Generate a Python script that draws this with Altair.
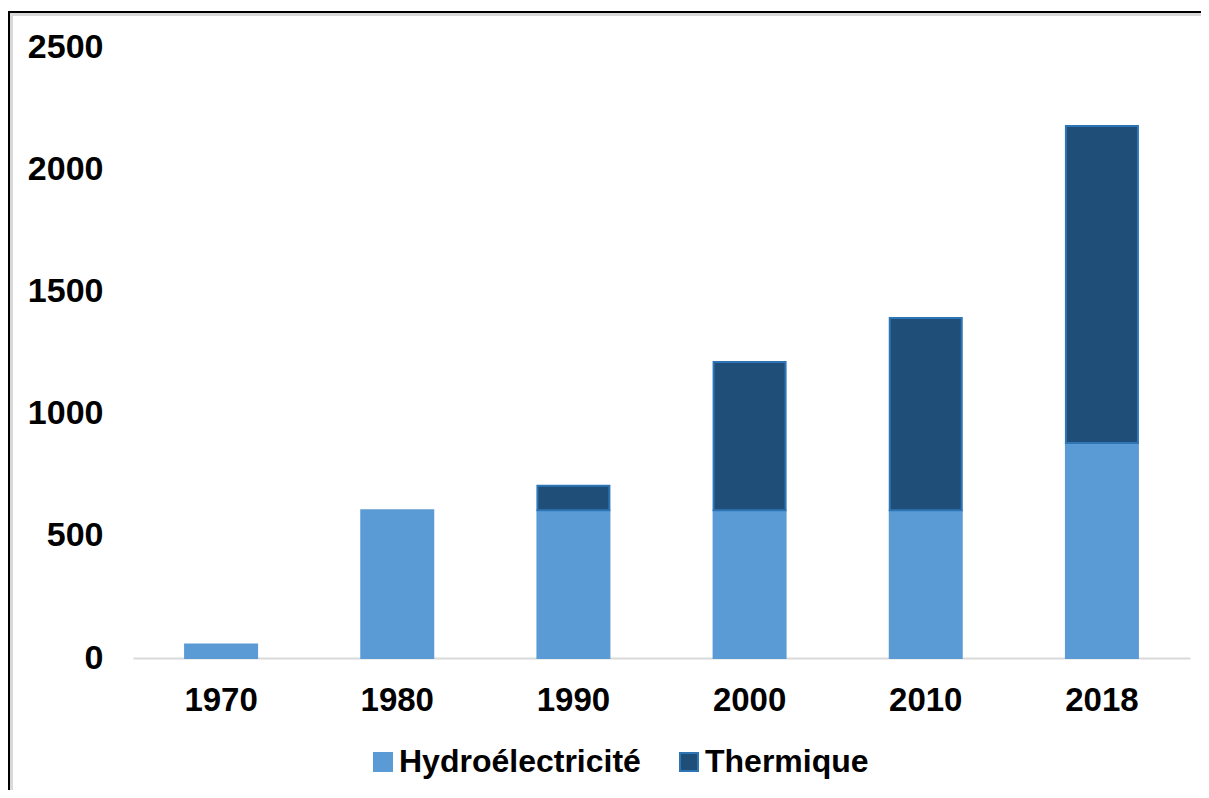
import altair as alt
import pandas as pd

years = ["1970", "1980", "1990", "2000", "2010", "2018"]
hydro = [55, 605, 605, 605, 605, 880]
thermal = [0, 0, 100, 606, 786, 1297]
series = ["Hydroélectricité", "Thermique"]
fills = ["#5b9bd5", "#1f4e79"]
strokes = ["#5b9bd5", "#2e75b6"]
y_ticks = [0, 500, 1000, 1500, 2000, 2500]

rows = []
for i, y in enumerate(years):
    rows.append({"year": y, "source": series[0], "value": hydro[i], "ord": 0})
    if thermal[i] > 0:
        rows.append({"year": y, "source": series[1], "value": thermal[i], "ord": 1})
df = pd.DataFrame(rows)

FONT = "Liberation Sans"

legend = alt.Legend(
    title=None, orient="none", legendX=234, legendY=699, direction="horizontal",
    labelFont=FONT, labelFontSize=32, labelFontWeight="bold", labelColor="#000000",
    symbolType="square", symbolSize=324, symbolStrokeWidth=2, labelOffset=0,
    columnPadding=32, labelLimit=400, padding=0,
)

bars = alt.Chart(df).mark_bar(strokeWidth=2, size=72).encode(
    x=alt.X("year:N", sort=years, title=None,
            scale=alt.Scale(paddingInner=0.59, paddingOuter=0.295),
            axis=alt.Axis(labelAngle=0, ticks=False, domainColor="#d9d9d9",
                          domainWidth=2, labelFont=FONT, labelFontSize=33,
                          labelFontWeight="bold", labelColor="#000000",
                          labelPadding=26)),
    y=alt.Y("value:Q", stack="zero", title=None,
            scale=alt.Scale(domain=[0, 2500], nice=False),
            axis=alt.Axis(values=y_ticks, format="d", grid=False, domain=False,
                          ticks=False, labelFont=FONT, labelFontSize=34,
                          labelFontWeight="bold", labelColor="#000000",
                          labelPadding=30)),
    fill=alt.Fill("source:N", scale=alt.Scale(domain=series, range=fills),
                  legend=legend),
    stroke=alt.Stroke("source:N", scale=alt.Scale(domain=series, range=strokes),
                      legend=legend),
    order=alt.Order("ord:Q", sort="ascending"),
)

frame = pd.DataFrame({"a": [0]})
top_black = alt.Chart(frame).mark_rule(color="#000000", strokeWidth=2).encode(
    x=alt.value(-125), x2=alt.value(1068), y=alt.value(-35))
top_gray = alt.Chart(frame).mark_rule(color="#d9d9d9", strokeWidth=3).encode(
    x=alt.value(-123), x2=alt.value(1068), y=alt.value(-32.5))
left_black = alt.Chart(frame).mark_rule(color="#000000", strokeWidth=2).encode(
    x=alt.value(-124), y=alt.value(-36), y2=alt.value(743))
left_gray = alt.Chart(frame).mark_rule(color="#d9d9d9", strokeWidth=3).encode(
    x=alt.value(-121.5), y=alt.value(-34), y2=alt.value(743))

chart = alt.layer(bars, top_black, top_gray, left_black, left_gray).properties(
    width=1057, height=611,
    background="#ffffff",
    autosize=alt.AutoSizeParams(type="none"),
    padding={"left": 125, "top": 39, "right": 11, "bottom": 132},
).configure_view(strokeWidth=0, stroke="transparent")

chart.save("out.html", embed_options={"renderer": "svg", "actions": False})
